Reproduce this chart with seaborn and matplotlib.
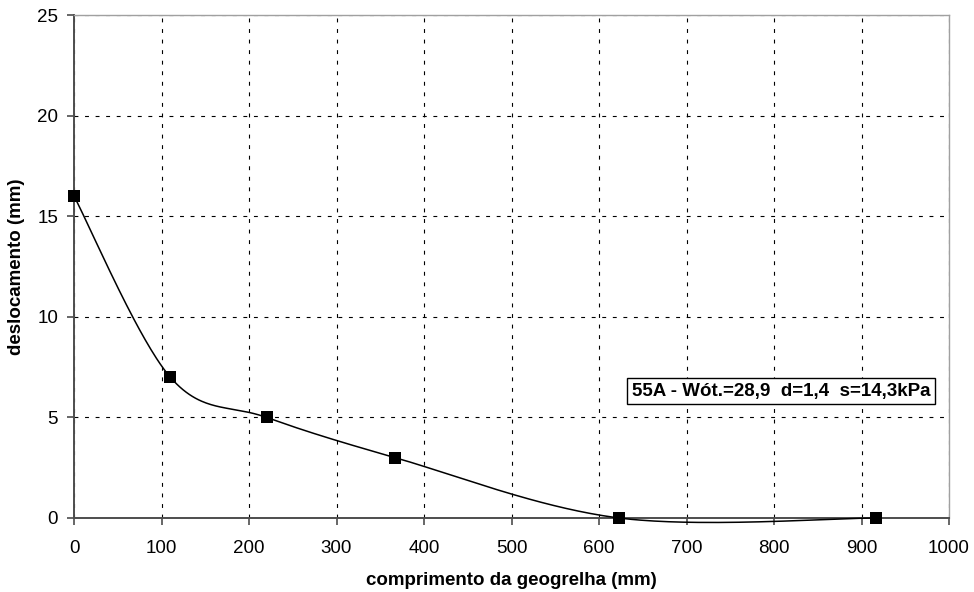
import numpy as np
import pandas as pd
import seaborn as sns
import matplotlib
matplotlib.use("Agg")
import matplotlib.pyplot as plt

# Measured displacement along the geogrid
comprimento = [0, 110, 220, 367, 623, 916]
deslocamento = [16, 7, 5, 3, 0, 0]
x_ticks = [0, 100, 200, 300, 400, 500, 600, 700, 800, 900, 1000]
y_ticks = [0, 5, 10, 15, 20, 25]
legenda = "55A - Wót.=28,9  d=1,4  s=14,3kPa"


def smooth_curve(xs, ys, n=60):
    """Bezier smoothing with 1/6 tangents (spreadsheet-style smoothed line)."""
    p = np.column_stack([xs, ys]).astype(float)
    m = len(p)
    out = []
    t = np.linspace(0, 1, n)[:, None]
    for i in range(m - 1):
        p0 = p[i]
        p3 = p[i + 1]
        prev = p[i - 1] if i > 0 else p[i]
        nxt = p[i + 2] if i + 2 < m else p[i + 1]
        c1 = p0 + (p3 - prev) / 6.0
        c2 = p3 - (nxt - p0) / 6.0
        seg = ((1 - t) ** 3) * p0 + 3 * ((1 - t) ** 2) * t * c1 + 3 * (1 - t) * t ** 2 * c2 + t ** 3 * p3
        out.append(seg if i == 0 else seg[1:])
    return np.vstack(out)


sns.set_theme(style="white")
plt.rcParams["font.family"] = ["Liberation Sans", "DejaVu Sans"]
plt.rcParams["text.color"] = "black"
plt.rcParams["axes.labelcolor"] = "black"

df = pd.DataFrame({"comprimento": comprimento, "deslocamento": deslocamento})
curve = smooth_curve(comprimento, deslocamento)
df_curve = pd.DataFrame({"x": curve[:, 0], "y": curve[:, 1]})

fig = plt.figure(figsize=(9.74, 5.92), dpi=100)
ax = fig.add_axes([74 / 974, 74 / 592, 875 / 974, 503 / 592])

sns.lineplot(data=df_curve, x="x", y="y", sort=False, color="black",
             linewidth=1.1, ax=ax, zorder=3, clip_on=False)
sns.scatterplot(data=df, x="comprimento", y="deslocamento", marker="s",
                s=80, color="black", edgecolor="black", linewidth=0,
                ax=ax, zorder=4, clip_on=False)

ax.set_xlim(0, 1000)
ax.set_ylim(0, 25)
ax.set_xticks(x_ticks)
ax.set_yticks(y_ticks)
ax.set_xticklabels([str(v) for v in x_ticks])
ax.set_yticklabels([str(v) for v in y_ticks])

ax.grid(True, color="black", linestyle=(0, (3.5, 6)), linewidth=0.8)
ax.set_axisbelow(True)

for side in ("left", "bottom"):
    ax.spines[side].set_color("#4d4d4d")
    ax.spines[side].set_linewidth(1.4)
for side in ("top", "right"):
    ax.spines[side].set_color("#a0a0a0")
    ax.spines[side].set_linewidth(1.0)

ax.tick_params(axis="both", which="major", direction="out", length=5,
               width=1.2, color="#4d4d4d", labelsize=13.5, labelcolor="black",
               bottom=True, left=True)
ax.tick_params(axis="x", pad=10.5)
ax.tick_params(axis="y", pad=6.5)

ax.set_xlabel("comprimento da geogrelha (mm)", fontsize=13.5,
              fontweight="bold", labelpad=11, color="black")
ax.set_ylabel("deslocamento (mm)", fontsize=13.5, fontweight="bold",
              labelpad=8.5, color="black")

ax.text(808, 6.3, legenda, fontsize=13.5, fontweight="bold", ha="center",
        va="center", zorder=5, color="black",
        bbox=dict(boxstyle="square,pad=0.25", facecolor="white",
                  edgecolor="black", linewidth=1.0))

fig.savefig("out.png", dpi=100)
